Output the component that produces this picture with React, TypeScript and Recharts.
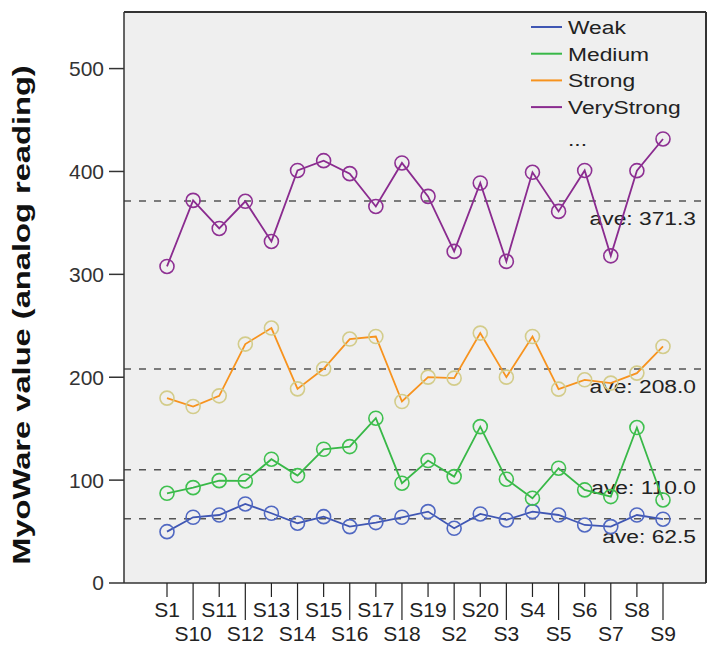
import React from 'react';
import { LineChart, Line, XAxis, YAxis, CartesianGrid, ReferenceLine, Legend } from 'recharts';

const subjects = ['S1', 'S10', 'S11', 'S12', 'S13', 'S14', 'S15', 'S16', 'S17', 'S18', 'S19', 'S2', 'S20', 'S3', 'S4', 'S5', 'S6', 'S7', 'S8', 'S9'];
const weak = [49.9, 63.9, 66.1, 76.8, 67.8, 58.1, 64.5, 54.8, 58.7, 63.9, 69.4, 53.2, 67.1, 61.3, 69.4, 66.1, 56.4, 54.8, 66.1, 62.0];
const medium = [87.2, 92.7, 99.5, 99.2, 120.3, 104.4, 130.0, 132.6, 160.2, 97.0, 119.0, 103.4, 152.0, 100.9, 82.4, 111.6, 90.5, 84.0, 151.1, 80.7];
const strong = [179.7, 171.5, 181.9, 232.2, 247.8, 188.7, 208.2, 237.1, 239.6, 176.4, 200.1, 199.1, 242.9, 200.1, 239.6, 188.4, 197.5, 194.3, 204.0, 229.9];
const veryStrong = [307.7, 371.9, 344.6, 371.0, 332.0, 401.0, 410.5, 397.9, 366.0, 408.3, 375.8, 322.3, 388.8, 312.6, 399.2, 361.2, 401.0, 318.0, 400.8, 431.6];
const averages = [62.5, 110.0, 208.0, 371.3];
const yTicks = [0, 100, 200, 300, 400, 500];
const yMax = 555;

const series = [
  { key: 'weak', name: 'Weak', color: '#3f56b3', marker: '#5068c2' },
  { key: 'medium', name: 'Medium', color: '#38b847', marker: '#3fc04f' },
  { key: 'strong', name: 'Strong', color: '#f7931e', marker: '#d3cc8a' },
  { key: 'veryStrong', name: 'VeryStrong', color: '#8a2b8f', marker: '#8e3093' },
];

const data = subjects.map((s, i) => ({
  subject: s,
  frame: 0,
  weak: weak[i],
  medium: medium[i],
  strong: strong[i],
  veryStrong: veryStrong[i],
}));

const FONT = '"Liberation Sans", Arial, sans-serif';

const SubjectTick = (props: any) => {
  const { x, y, payload } = props;
  const low = payload.index % 2 === 1;
  return (
    <g>
      <line x1={x} x2={x} y1={y} y2={y + (low ? 37 : 14)} stroke="#222" strokeWidth={1.2} />
      <text x={x} y={y + (low ? 58 : 34)} textAnchor="middle" fontSize={21} fill="#222" fontFamily={FONT}>
        {payload.value}
      </text>
    </g>
  );
};

const AveLabel = (props: any) => {
  const { viewBox, value } = props;
  const x = viewBox.x + viewBox.width - 10;
  const y = viewBox.y + 24;
  return (
    <text transform={`translate(${x},${y}) scale(1.2,1)`} textAnchor="end" fontSize={19} fill="#222" fontFamily={FONT}>
      {`ave: ${value.toFixed(1)}`}
    </text>
  );
};

const YTitle = () => (
  <text
    transform="translate(30,315) rotate(-90) scale(1.42,1)"
    textAnchor="middle"
    fontSize={23}
    fontWeight="bold"
    fill="#111"
    fontFamily={FONT}
  >
    MyoWare value (analog reading)
  </text>
);

// legend drawn from the series list so the order stays Weak → VeryStrong
const LegendBox = () => (
  <svg width={175} height={150}>
    {series.map((s, i) => (
      <g key={s.key} transform={`translate(0,${13 + i * 26.7})`}>
        <line x1={1} x2={32} y1={0} y2={0} stroke={s.color} strokeWidth={2} />
        <text transform="translate(38,7) scale(1.2,1)" fontSize={19} fill="#222" fontFamily={FONT}>
          {s.name}
        </text>
      </g>
    ))}
    <text transform="translate(38,132) scale(1.2,1)" fontSize={19} fill="#222" fontFamily={FONT}>
      ...
    </text>
  </svg>
);

export default function App() {
  return (
    <div style={{ position: 'absolute', left: 0, top: 0, width: 709, height: 652, background: '#fff' }}>
      <LineChart
        width={709}
        height={652}
        data={data}
        margin={{ top: 12, right: 3, bottom: 0, left: 0 }}
        style={{ fontFamily: FONT }}
      >
        <CartesianGrid fill="#efefef" horizontal={false} vertical={false} />
        <XAxis
          dataKey="subject"
          height={69}
          interval={0}
          padding={{ left: 43, right: 43 }}
          axisLine={{ stroke: '#333', strokeWidth: 1.5 }}
          tickLine={false}
          tickSize={0}
          tickMargin={0}
          tick={<SubjectTick />}
        />
        {/* hidden 0..1 axis, only used to place the right edge of the frame */}
        <XAxis xAxisId="frame" dataKey="frame" type="number" domain={[0, 1]} allowDataOverflow hide />
        <YAxis
          width={124}
          domain={[0, yMax]}
          ticks={yTicks}
          interval={0}
          tickSize={15}
          tickMargin={5}
          axisLine={{ stroke: '#333', strokeWidth: 1.5 }}
          tickLine={{ stroke: '#333', strokeWidth: 1.5 }}
          tick={{ fontSize: 21, fill: '#333', fontFamily: FONT }}
          label={<YTitle />}
        />
        <ReferenceLine y={yMax} stroke="#333" strokeWidth={2} />
        <ReferenceLine xAxisId="frame" x={1} stroke="#333" strokeWidth={2} />
        {averages.map((a) => (
          <ReferenceLine
            key={a}
            y={a}
            stroke="#555"
            strokeWidth={1.5}
            strokeDasharray="7 8"
            label={<AveLabel value={a} />}
          />
        ))}
        {series.map((s) => (
          <Line
            key={s.key}
            dataKey={s.key}
            name={s.name}
            stroke={s.color}
            strokeWidth={1.8}
            dot={{ r: 7, stroke: s.marker, strokeWidth: 1.6, fill: 'none' }}
            activeDot={false}
            isAnimationActive={false}
          />
        ))}
        <Legend
          layout="vertical"
          align="center"
          verticalAlign="middle"
          content={<LegendBox />}
          wrapperStyle={{ left: 530, top: 14, width: 175, height: 150 }}
        />
      </LineChart>
    </div>
  );
}
